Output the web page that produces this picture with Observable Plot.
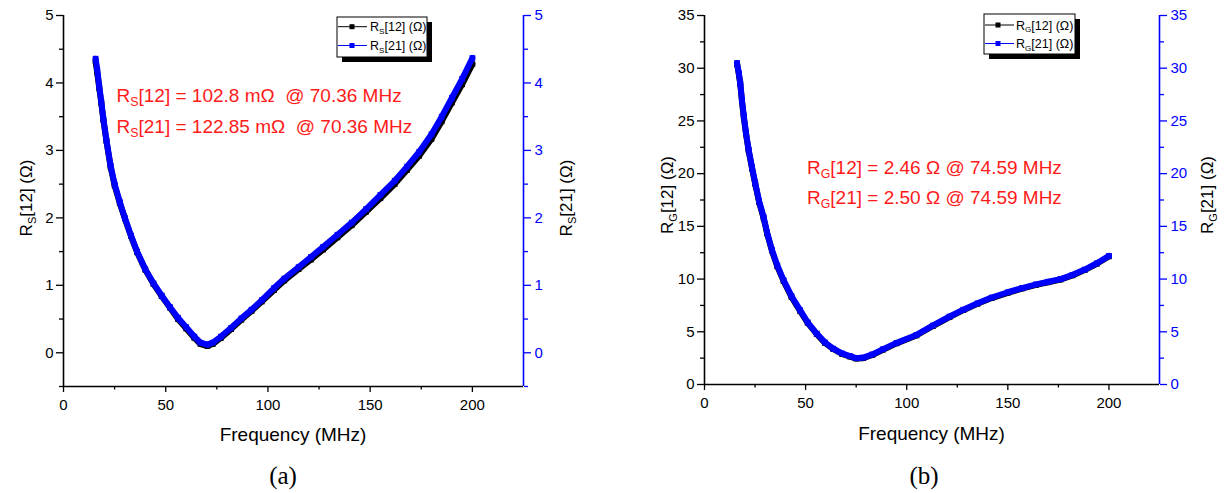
<!DOCTYPE html>
<html><head><meta charset="utf-8">
<script src="https://cdn.jsdelivr.net/npm/d3@7"></script>
<script src="https://cdn.jsdelivr.net/npm/@observablehq/plot@0.6"></script>
<style>
body{margin:0;background:#fff;}
#wrap{position:relative;width:1227px;height:493px;overflow:hidden;background:#fff;}
#wrap svg{position:absolute;top:0;}
</style></head><body><div id="wrap"></div>
<script>
// ---------- data : panel (a) R_S ----------
const freqA = [15.7,16.5,17.5,18.5,19.5,21,23,25,27.5,30,33,36,40,44,48,52,56,60,64,67,70.4,73,77,82,87,92,97,103,108,115,121,127,134,141,148,155,162,168,174,180,185,190,195,200];
const rs21 = [4.36,4.2,3.95,3.72,3.47,3.15,2.78,2.5,2.24,2.0,1.74,1.5,1.24,1.03,0.85,0.68,0.52,0.38,0.24,0.15,0.12,0.15,0.24,0.37,0.51,0.64,0.78,0.96,1.1,1.27,1.42,1.57,1.75,1.93,2.13,2.34,2.55,2.76,2.98,3.24,3.5,3.78,4.06,4.37];
const rs12 = [4.32,4.15,3.92,3.7,3.45,3.14,2.76,2.48,2.22,1.99,1.73,1.49,1.23,1.02,0.84,0.67,0.5,0.36,0.22,0.13,0.10,0.13,0.22,0.35,0.49,0.62,0.76,0.93,1.07,1.24,1.38,1.53,1.71,1.89,2.09,2.29,2.5,2.71,2.92,3.17,3.43,3.71,3.98,4.28];
// ---------- data : panel (b) R_G ----------
const freqB = [16.1,17,17.7,18.5,19.4,20.5,21.8,23.5,25.1,27,29.2,31,33.3,36,39.1,43,47.3,51,55.5,59.5,63.7,68,71.9,75,78.5,83,88.3,95,104.8,113,121.2,128,135,142,150,157,164,170,176,182,188,194,200];
const rg21 = [30.5,29.5,28.6,27.0,25.5,23.9,22.3,20.6,19.1,17.4,15.9,14.4,12.8,11.3,9.9,8.4,7.05,5.9,4.83,4.0,3.4,2.95,2.7,2.5,2.55,2.85,3.35,3.95,4.7,5.6,6.45,7.1,7.7,8.25,8.75,9.15,9.5,9.75,10.0,10.4,10.9,11.5,12.2];
const rg12 = [30.4,29.4,28.5,26.9,25.4,23.8,22.2,20.5,19.0,17.3,15.8,14.3,12.7,11.2,9.8,8.3,6.95,5.85,4.78,3.95,3.35,2.9,2.65,2.46,2.5,2.8,3.3,3.9,4.65,5.55,6.4,7.05,7.65,8.2,8.7,9.1,9.45,9.7,9.95,10.35,10.85,11.45,12.15];
// ---------- ticks ----------
const xMajor = [0,50,100,150,200];
const xMinor = [25,75,125,175];
const yMajorA = [0,1,2,3,4,5];
const yMinorA = [-0.5,0.5,1.5,2.5,3.5,4.5];
const yMajorB = [0,5,10,15,20,25,30,35];
const yMinorB = [2.5,7.5,12.5,17.5,22.5,27.5,32.5];

const FONT = "'Liberation Sans', Arial, sans-serif";
const BLUE = "#0000ff";
const fmt = d => String(d);

function panel({freq, s12, s21, yDomain, yMajor, yMinor, width, marginLeft, marginRight, marginBottom}) {
  const d12 = freq.map((f, i) => ({f, v: s12[i]}));
  const d21 = freq.map((f, i) => ({f, v: s21[i]}));
  return Plot.plot({
    width, height: 493, marginTop: 15, marginLeft, marginRight, marginBottom,
    style: {fontFamily: FONT, fontSize: "15px", background: "white", overflow: "visible"},
    x: {domain: [0, 225]},
    y: {domain: yDomain},
    marks: [
      Plot.axisX(xMajor, {tickSize: 6, tickPadding: 7, tickFormat: fmt, label: null, stroke: "black", fill: "black", strokeWidth: 1.3}),
      Plot.axisX(xMinor, {tickSize: 3.5, tickFormat: () => "", label: null, stroke: "black", strokeWidth: 1.3}),
      Plot.axisY(yMajor, {anchor: "left", tickSize: 7, tickPadding: 3, tickFormat: fmt, label: null, stroke: "black", fill: "black", strokeWidth: 1.3}),
      Plot.axisY(yMinor, {anchor: "left", tickSize: 4, tickFormat: () => "", label: null, stroke: "black", strokeWidth: 1.3}),
      Plot.axisY(yMajor, {anchor: "right", tickSize: 7, tickPadding: 4, tickFormat: fmt, label: null, color: BLUE, stroke: BLUE, fill: BLUE, strokeWidth: 1.3}),
      Plot.axisY(yMinor, {anchor: "right", tickSize: 4, tickFormat: () => "", label: null, color: BLUE, stroke: BLUE, strokeWidth: 1.3}),
      Plot.ruleX([0], {stroke: "black", strokeWidth: 1.6}),
      Plot.ruleY([yDomain[0]], {stroke: "black", strokeWidth: 1.6}),
      Plot.ruleX([225], {stroke: BLUE, strokeWidth: 1.6}),
      Plot.line(d12, {x: "f", y: "v", stroke: "black", strokeWidth: 6}),
      Plot.dot(d12, {x: "f", y: "v", symbol: "square", fill: "black", r: 3.2}),
      Plot.line(d21, {x: "f", y: "v", stroke: BLUE, strokeWidth: 6}),
      Plot.dot(d21, {x: "f", y: "v", symbol: "square", fill: BLUE, r: 3.2})
    ]
  });
}

function rich(sel, x, y, parts, {size, fill = "black", anchor = "start", rotate = false, family = FONT}) {
  const t = sel.append("text").attr("font-size", size).attr("fill", fill)
    .attr("text-anchor", anchor).attr("font-family", family).style("white-space", "pre");
  if (rotate) t.attr("transform", `translate(${x},${y}) rotate(-90)`);
  else t.attr("x", x).attr("y", y);
  let prevSub = false;
  parts.forEach(([s, sub]) => {
    const ts = t.append("tspan").text(s);
    if (sub) { ts.attr("font-size", size * 0.65).attr("dy", size * 0.22); prevSub = true; }
    else if (prevSub) { ts.attr("dy", -size * 0.22); prevSub = false; }
  });
  return t;
}

function legend(svg, x, y, w, h, sub, lineX1, lineX2, markX, textX, rowY) {
  const g = svg.append("g");
  g.append("rect").attr("x", x + 5).attr("y", y + 5).attr("width", w).attr("height", h).attr("fill", "black");
  g.append("rect").attr("x", x).attr("y", y).attr("width", w).attr("height", h).attr("fill", "white").attr("stroke", "black").attr("stroke-width", 1);
  [["[12] (Ω)", "black", rowY[0]], ["[21] (Ω)", BLUE, rowY[1]]].forEach(([lab, c, ry]) => {
    g.append("line").attr("x1", lineX1).attr("x2", lineX2).attr("y1", ry).attr("y2", ry).attr("stroke", c).attr("stroke-width", 1);
    g.append("rect").attr("x", markX - 2.5).attr("y", ry - 2.5).attr("width", 5).attr("height", 5).attr("fill", c);
    rich(g, textX, ry + 4.5, [["R"], [sub, true], [lab]], {size: 12.5});
  });
}

const wrap = d3.select("#wrap");

// ---------- panel (a) ----------
const pa = panel({freq: freqA, s12: rs12, s21: rs21, yDomain: [-0.5, 5], yMajor: yMajorA, yMinor: yMinorA,
  width: 610, marginLeft: 63, marginRight: 87, marginBottom: 107});
pa.style.left = "0px";
wrap.node().appendChild(pa);
const sa = d3.select(pa);
rich(sa, 32, 198, [["R"], ["S", true], ["[12] (Ω)"]], {size: 17, anchor: "middle", rotate: true});
rich(sa, 572, 198, [["R"], ["S", true], ["[21] (Ω)"]], {size: 17, anchor: "middle", rotate: true});
rich(sa, 293, 441, [["Frequency (MHz)"]], {size: 19, anchor: "middle"});
rich(sa, 283, 484, [["(a)"]], {size: 25, anchor: "middle", family: "'Liberation Serif', 'Times New Roman', serif"});
rich(sa, 116.5, 101.7, [["R"], ["S", true], ["[12] = 102.8 mΩ  @ 70.36 MHz"]], {size: 19, fill: "#ff1a1a"});
rich(sa, 116.5, 132.7, [["R"], ["S", true], ["[21] = 122.85 mΩ  @ 70.36 MHz"]], {size: 19, fill: "#ff1a1a"});
legend(sa, 337, 17, 90, 40, "S", 338, 367, 352, 370, [26.7, 45.5]);

// ---------- panel (b) ----------
const pb = panel({freq: freqB, s12: rg12, s21: rg21, yDomain: [0, 35], yMajor: yMajorB, yMinor: yMinorB,
  width: 587, marginLeft: 64, marginRight: 68, marginBottom: 109});
pb.style.left = "640px";
wrap.node().appendChild(pb);
const sb = d3.select(pb);
rich(sb, 673 - 640, 195, [["R"], ["G", true], ["[12] (Ω)"]], {size: 17, anchor: "middle", rotate: true});
rich(sb, 1213 - 640, 195, [["R"], ["G", true], ["[21] (Ω)"]], {size: 17, anchor: "middle", rotate: true});
rich(sb, 931.5 - 640, 440, [["Frequency (MHz)"]], {size: 19, anchor: "middle"});
rich(sb, 924 - 640, 484, [["(b)"]], {size: 25, anchor: "middle", family: "'Liberation Serif', 'Times New Roman', serif"});
rich(sb, 807 - 640, 174, [["R"], ["G", true], ["[12] = 2.46 Ω @ 74.59 MHz"]], {size: 19, fill: "#ff1a1a"});
rich(sb, 807 - 640, 204, [["R"], ["G", true], ["[21] = 2.50 Ω @ 74.59 MHz"]], {size: 19, fill: "#ff1a1a"});
legend(sb, 984 - 640, 14, 91, 40, "G", 985 - 640, 1014 - 640, 998 - 640, 1016 - 640, [25, 43.5]);
</script></body></html>
